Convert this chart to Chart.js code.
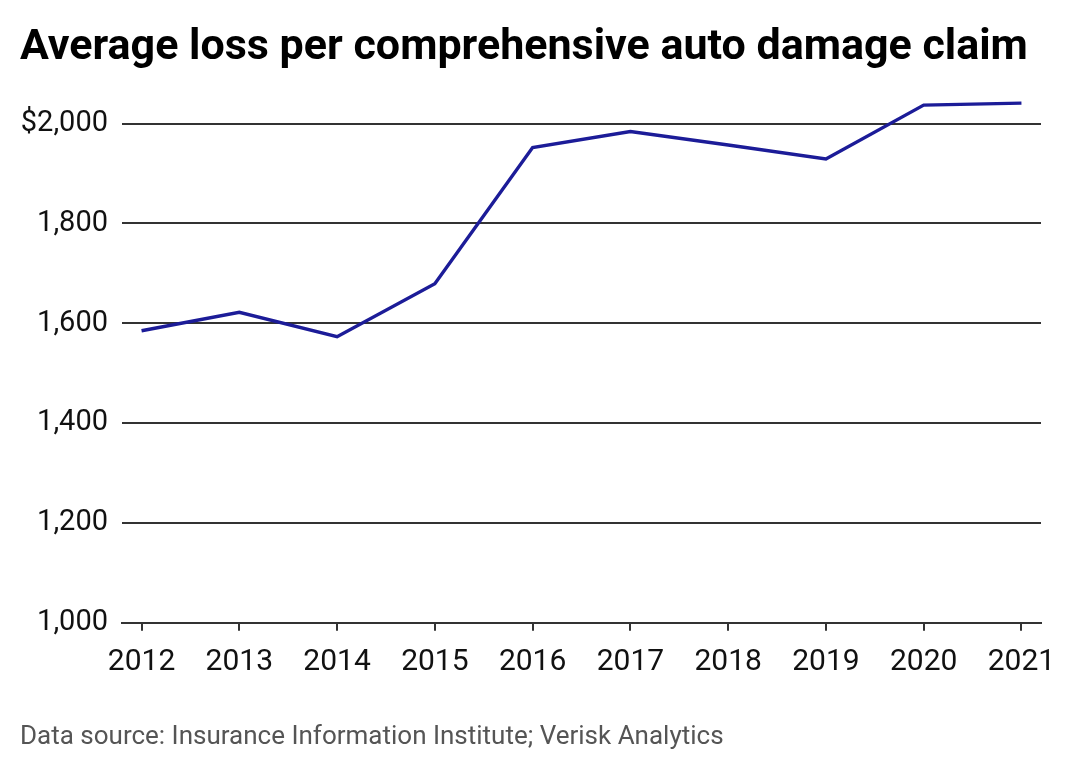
<!DOCTYPE html>
<html>
<head>
<meta charset="utf-8">
<script src="https://cdn.jsdelivr.net/npm/chart.js@4.4.0/dist/chart.umd.min.js"></script>
<style>
  html, body { margin: 0; padding: 0; background: #fff; }
  #wrap { width: 1080px; height: 770px; position: relative; }
</style>
</head>
<body>
<div id="wrap"><canvas id="chart"></canvas></div>
<script>
// data
const years = [2012, 2013, 2014, 2015, 2016, 2017, 2018, 2019, 2020, 2021];
const avgLoss = [1585, 1622, 1573, 1679, 1952, 1984, 1957, 1929, 2037, 2041];
const yTicks = [1000, 1200, 1400, 1600, 1800, 2000];

const titleText = 'Average loss per comprehensive auto damage claim';
const sourceText = 'Data source: Insurance Information Institute; Verisk Analytics';

const points = years.map((yr, i) => ({ x: yr, y: avgLoss[i] }));

const fmtY = (v) => v === 2000 ? '$2,000' : v.toLocaleString('en-US');

new Chart(document.getElementById('chart'), {
    type: 'line',
    data: {
        datasets: [{
            data: points,
            borderColor: '#1c1c98',
            borderWidth: 3.4,
            pointRadius: 0,
            tension: 0
        }]
    },
    options: {
        responsive: true,
        maintainAspectRatio: false,
        animation: false,
        layout: {
            padding: { left: 20, right: 39, top: 0, bottom: 0 }
        },
        plugins: {
            legend: { display: false },
            tooltip: { enabled: false },
            title: {
                display: true,
                text: titleText,
                align: 'start',
                color: '#000',
                font: { family: 'Roboto', size: 43, weight: 'bold' },
                padding: { top: 22, bottom: 20 }
            },
            subtitle: {
                display: true,
                position: 'bottom',
                text: sourceText,
                align: 'start',
                color: '#555',
                font: { family: 'Roboto', size: 26, weight: 'normal' },
                padding: { top: 29, bottom: 17 }
            }
        },
        scales: {
            x: {
                type: 'linear',
                min: 2011.8,
                max: 2021.2,
                afterBuildTicks: (scale) => {
                    scale.ticks = years.map(v => ({ value: v }));
                },
                afterFit: (scale) => { scale.height = 70; },
                ticks: {
                    color: '#111',
                    font: { family: 'Roboto', size: 30 },
                    padding: 14,
                    maxRotation: 0,
                    callback: (v) => String(v)
                },
                grid: {
                    drawOnChartArea: false,
                    drawTicks: true,
                    tickLength: 8,
                    color: '#333',
                    lineWidth: 2
                },
                border: { display: true, color: '#333', width: 2 }
            },
            y: {
                min: 1000,
                max: 2060,
                afterBuildTicks: (scale) => {
                    scale.ticks = yTicks.map(v => ({ value: v }));
                },
                afterFit: (scale) => { scale.width = 102; },
                ticks: {
                    color: '#111',
                    font: { family: 'Roboto', size: 29 },
                    padding: 14,
                    callback: fmtY
                },
                grid: {
                    drawTicks: false,
                    color: '#333',
                    lineWidth: 2
                },
                border: { display: false }
            }
        }
    }
});
</script>
</body>
</html>
